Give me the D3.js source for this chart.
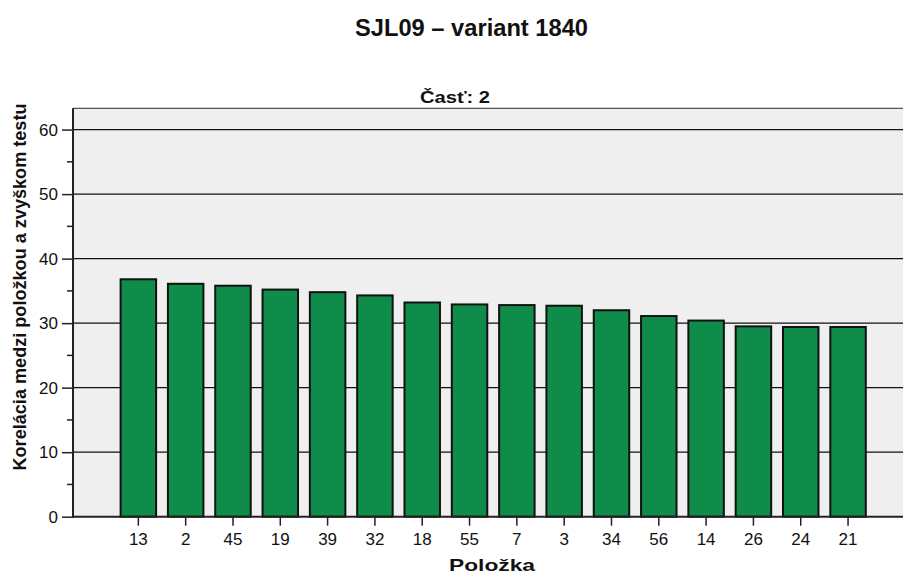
<!DOCTYPE html>
<html>
<head>
<meta charset="utf-8">
<script src="https://cdn.jsdelivr.net/npm/d3@7"></script>
<style>
  html, body { margin: 0; padding: 0; background: #fff; }
  svg { display: block; font-family: Arial, "Liberation Sans", sans-serif; }
</style>
</head>
<body>
<svg id="chart" width="903" height="576"></svg>
<script>
const categories = ["13","2","45","19","39","32","18","55","7","3","34","56","14","26","24","21"];
const values = [36.8,36.1,35.8,35.2,34.8,34.3,33.2,32.9,32.8,32.7,32.0,31.1,30.4,29.5,29.4,29.4];
const yTicks = [0,10,20,30,40,50,60];
const yMinorTicks = [5,15,25,35,45,55];
const titleText = "SJL09 – variant 1840";
const panelText = "Časť: 2";
const xLabel = "Položka";
const yLabel = "Korelácia medzi položkou a zvyškom testu";

const svg = d3.select("#chart");
const plot = {left: 73, right: 903, top: 108.3, bottom: 516.7};

const x = d3.scaleBand().domain(categories).range([114.7, 871.7]).paddingInner(0.25).paddingOuter(0.125);
const y = d3.scaleLinear().domain([0, 63.3]).range([plot.bottom, plot.top]);

// plot background
svg.append("rect").attr("x", plot.left).attr("y", plot.top)
  .attr("width", plot.right - plot.left).attr("height", plot.bottom - plot.top)
  .attr("fill", "#efefef");
svg.append("line").attr("x1", plot.left).attr("x2", plot.right)
  .attr("y1", plot.top).attr("y2", plot.top)
  .attr("stroke", "#555").attr("stroke-width", 1.3);

// gridlines
svg.append("g").selectAll("line").data(yTicks.filter(d => d > 0)).join("line")
  .attr("x1", plot.left).attr("x2", plot.right)
  .attr("y1", d => y(d)).attr("y2", d => y(d))
  .attr("stroke", "#111").attr("stroke-width", 1.2);

// bars
svg.append("g").selectAll("rect").data(values).join("rect")
  .attr("x", (d, i) => x(categories[i]))
  .attr("y", d => y(d))
  .attr("width", x.bandwidth())
  .attr("height", d => y(0) - y(d))
  .attr("fill", "#108c4a")
  .attr("stroke", "#111").attr("stroke-width", 2);

// y axis
const yAxis = svg.append("g").attr("transform", `translate(${plot.left},0)`)
  .call(d3.axisLeft(y).tickValues(yTicks).tickSize(11).tickPadding(4).tickFormat(d3.format("d")));
yAxis.select(".domain").remove();
yAxis.selectAll(".tick line").attr("stroke", "#222").attr("stroke-width", 1.5);
yAxis.selectAll(".tick text").attr("font-size", 17).attr("fill", "#111")
  .attr("font-family", "Arial, 'Liberation Sans', sans-serif");
svg.append("g").selectAll("line").data(yMinorTicks).join("line")
  .attr("x1", plot.left - 6).attr("x2", plot.left)
  .attr("y1", d => y(d)).attr("y2", d => y(d))
  .attr("stroke", "#222").attr("stroke-width", 1.5);
svg.append("line").attr("x1", plot.left).attr("x2", plot.left)
  .attr("y1", plot.top).attr("y2", plot.bottom + 1)
  .attr("stroke", "#222").attr("stroke-width", 2);

// x axis
const xAxis = svg.append("g").attr("transform", `translate(0,${plot.bottom})`)
  .call(d3.axisBottom(x).tickSize(9).tickPadding(7));
xAxis.select(".domain").remove();
xAxis.selectAll(".tick line").attr("stroke", "#222").attr("stroke-width", 1.5);
xAxis.selectAll(".tick text").attr("font-size", 17).attr("fill", "#111")
  .attr("font-family", "Arial, 'Liberation Sans', sans-serif");
svg.append("line").attr("x1", plot.left).attr("x2", plot.right)
  .attr("y1", plot.bottom).attr("y2", plot.bottom)
  .attr("stroke", "#222").attr("stroke-width", 2);

// titles
svg.append("text").attr("x", 471.5).attr("y", 36).attr("text-anchor", "middle")
  .attr("font-size", 23).attr("font-weight", "bold").attr("fill", "#111")
  .attr("textLength", 233).attr("lengthAdjust", "spacingAndGlyphs").text(titleText);
svg.append("text").attr("x", 455).attr("y", 103).attr("text-anchor", "middle")
  .attr("font-size", 16).attr("font-weight", "bold").attr("fill", "#111")
  .attr("textLength", 70).attr("lengthAdjust", "spacingAndGlyphs").text(panelText);
svg.append("text").attr("x", 492).attr("y", 571).attr("text-anchor", "middle")
  .attr("font-size", 17).attr("font-weight", "bold").attr("fill", "#111")
  .attr("textLength", 86).attr("lengthAdjust", "spacingAndGlyphs").text(xLabel);
svg.append("text").attr("transform", "translate(26,287) rotate(-90)").attr("text-anchor", "middle")
  .attr("font-size", 18).attr("font-weight", "bold").attr("fill", "#111")
  .attr("textLength", 367).attr("lengthAdjust", "spacingAndGlyphs").text(yLabel);
</script>
</body>
</html>
